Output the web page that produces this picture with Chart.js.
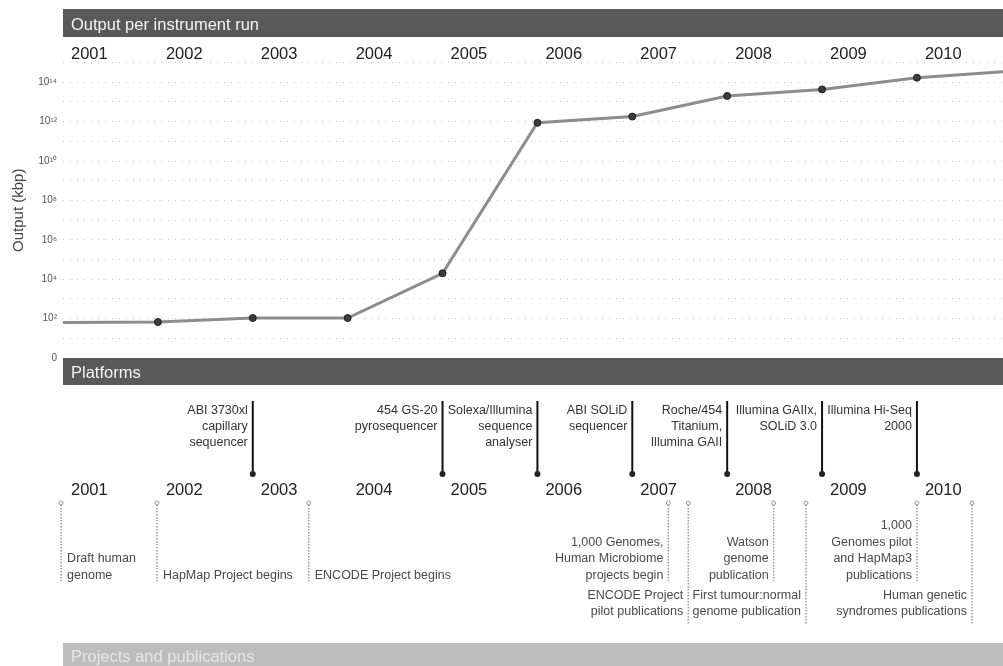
<!DOCTYPE html>
<html>
<head>
<meta charset="utf-8">
<script src="https://cdn.jsdelivr.net/npm/chart.js@4.4.0/dist/chart.umd.min.js"></script>
<style>
  html, body { margin: 0; padding: 0; background: #fff; }
</style>
</head>
<body>
<canvas id="myChart" width="1003" height="666"></canvas>
<script>
// year ticks on both timelines
const years = [2001, 2002, 2003, 2004, 2005, 2006, 2007, 2008, 2009, 2010];

// output per instrument run (kbp)
const runYear = [2001, 2002, 2003, 2004, 2005, 2006, 2007, 2008, 2009, 2010, 2010.907];
const runOutput = [63, 67, 107, 107, 2.0e4, 8.7e11, 1.8e12, 2.0e13, 4.3e13, 1.7e14, 3.4e14];
const runDots = [0, 1, 1, 1, 1, 1, 1, 1, 1, 1, 0];

const yTicks = [1, 1e1, 1e2, 1e3, 1e4, 1e5, 1e6, 1e7, 1e8, 1e9, 1e10, 1e11, 1e12, 1e13, 1e14, 1e15];

// platforms
const platformYear = [2003, 2005, 2006, 2007, 2008, 2009, 2010];
const platformNames = [
  ['ABI 3730xl', 'capillary', 'sequencer'],
  ['454 GS-20', 'pyrosequencer'],
  ['Solexa/Illumina', 'sequence', 'analyser'],
  ['ABI SOLiD', 'sequencer'],
  ['Roche/454', 'Titanium,', 'Illumina GAII'],
  ['Illumina GAIIx,', 'SOLiD 3.0'],
  ['Illumina Hi-Seq', '2000']
];

// projects and publications
const projectYear = [2000.98, 2001.99, 2003.59, 2007.38, 2007.59, 2008.49, 2008.83, 2010.0, 2010.58];
const projectNames = [
  ['Draft human', 'genome'],
  ['HapMap Project begins'],
  ['ENCODE Project begins'],
  ['1,000 Genomes,', 'Human Microbiome', 'projects begin'],
  ['ENCODE Project', 'pilot publications'],
  ['Watson', 'genome', 'publication'],
  ['First tumour:normal', 'genome publication'],
  ['1,000', 'Genomes pilot', 'and HapMap3', 'publications'],
  ['Human genetic', 'syndromes publications']
];
const projectRow = [0, 0, 0, 0, 1, 0, 1, 0, 1];
const projectSide = ['right', 'right', 'right', 'left', 'left', 'left', 'left', 'left', 'left'];

const sup = { '0': '⁰', '1': '¹', '2': '²', '3': '³', '4': '⁴', '5': '⁵', '6': '⁶', '7': '⁷', '8': '⁸', '9': '⁹' };
const FONT = '"Liberation Sans", Arial, Helvetica, sans-serif';

function headerBar(ctx, x, y, w, h, fill, text, textColor, base) {
  ctx.save();
  ctx.fillStyle = fill;
  ctx.fillRect(x, y, w, h);
  ctx.fillStyle = textColor;
  ctx.font = '16.5px ' + FONT;
  ctx.textAlign = 'left';
  ctx.textBaseline = 'alphabetic';
  ctx.fillText(text, x + 8, base);
  ctx.restore();
}

const timelinePlugin = {
  id: 'timeline',
  afterDraw(chart) {
    const ctx = chart.ctx;
    const xs = chart.scales.x;
    const px = v => xs.getPixelForValue(v);
    const left = chart.chartArea.left;
    const w = chart.width - left;

    headerBar(ctx, left, 9, w, 28, '#595959', 'Output per instrument run', '#f4f4f4', 30);
    headerBar(ctx, left, 358, w, 27, '#595959', 'Platforms', '#f4f4f4', 378);
    headerBar(ctx, left, 643, w, 23, '#bdbdbd', 'Projects and publications', '#e6e6e6', 662);

    // year labels
    ctx.save();
    ctx.fillStyle = '#222';
    ctx.font = '16.5px ' + FONT;
    ctx.textAlign = 'left';
    ctx.textBaseline = 'alphabetic';
    years.forEach(y => {
      ctx.fillText(String(y), px(y) + 8, 59);
      ctx.fillText(String(y), px(y) + 8, 495);
    });
    ctx.restore();

    // platform markers
    ctx.save();
    ctx.font = '12.5px ' + FONT;
    ctx.textBaseline = 'middle';
    ctx.textAlign = 'right';
    platformYear.forEach((yr, i) => {
      const x = px(yr);
      ctx.strokeStyle = '#111';
      ctx.lineWidth = 2;
      ctx.beginPath();
      ctx.moveTo(x, 401);
      ctx.lineTo(x, 473);
      ctx.stroke();
      ctx.fillStyle = '#222';
      ctx.beginPath();
      ctx.arc(x, 474, 3, 0, Math.PI * 2);
      ctx.fill();
      ctx.fillStyle = '#333';
      platformNames[i].forEach((t, k) => ctx.fillText(t, x - 5, 411 + k * 16));
    });
    ctx.restore();

    // project markers
    ctx.save();
    ctx.font = '12.5px ' + FONT;
    ctx.textBaseline = 'middle';
    projectYear.forEach((yr, i) => {
      const x = px(yr);
      const lastY = projectRow[i] ? 612 : 575.5;
      const endY = projectRow[i] ? 624 : 581;
      ctx.strokeStyle = '#9a9a9a';
      ctx.lineWidth = 1.5;
      ctx.setLineDash([1.5, 1.5]);
      ctx.beginPath();
      ctx.moveTo(x, 505);
      ctx.lineTo(x, endY);
      ctx.stroke();
      ctx.setLineDash([]);
      ctx.lineWidth = 1;
      ctx.beginPath();
      ctx.arc(x, 503, 2, 0, Math.PI * 2);
      ctx.stroke();
      ctx.fillStyle = '#4a4a4a';
      const lines = projectNames[i];
      const n = lines.length;
      if (projectSide[i] === 'right') {
        ctx.textAlign = 'left';
        lines.forEach((t, k) => ctx.fillText(t, x + 6, lastY - (n - 1 - k) * 16.5));
      } else {
        ctx.textAlign = 'right';
        lines.forEach((t, k) => ctx.fillText(t, x - 5, lastY - (n - 1 - k) * 16.5));
      }
    });
    ctx.restore();
  }
};

const dataLine = {
  datasets: [{
    label: 'Output per instrument run',
    data: runYear.map((x, i) => ({ x: x, y: runOutput[i] })),
    borderColor: '#8d8d8d',
    borderWidth: 3,
    pointRadius: runDots.map(d => d ? 3.5 : 0),
    pointBackgroundColor: '#3c3c3c',
    pointBorderColor: '#1e1e1e',
    pointBorderWidth: 1,
    tension: 0
  }]
};

const configLine = {
  type: 'line',
  data: dataLine,
  options: {
    responsive: false,
    animation: false,
    layout: { padding: { top: 62.5, bottom: 308, left: 0, right: 0 } },
    plugins: {
      legend: { display: false },
      tooltip: { enabled: false }
    },
    scales: {
      x: {
        type: 'linear',
        display: false,
        min: 2001,
        max: 2010.907
      },
      y: {
        type: 'logarithmic',
        min: 1,
        max: 1e15,
        afterBuildTicks: axis => { axis.ticks = yTicks.map(v => ({ value: v })); },
        afterFit: axis => { axis.width = 63; },
        border: { display: false, dash: [1, 6] },
        grid: {
          color: 'rgba(0,0,0,0.22)',
          lineWidth: 1,
          drawTicks: false
        },
        ticks: {
          autoSkip: false,
          padding: 6,
          color: '#555',
          font: { family: FONT, size: 10 },
          callback: v => {
            const e = Math.round(Math.log10(v));
            if (e === 0) return '0';
            if (e % 2 === 1 || e === 15) return '';
            return '10' + String(e).split('').map(c => sup[c]).join('');
          }
        },
        title: {
          display: true,
          text: 'Output (kbp)',
          color: '#444',
          font: { family: FONT, size: 15 },
          padding: { top: 10, bottom: 0 }
        }
      }
    }
  },
  plugins: [timelinePlugin]
};

var myChartLine = new Chart(
  document.getElementById('myChart'),
  configLine
);
</script>
</body>
</html>
